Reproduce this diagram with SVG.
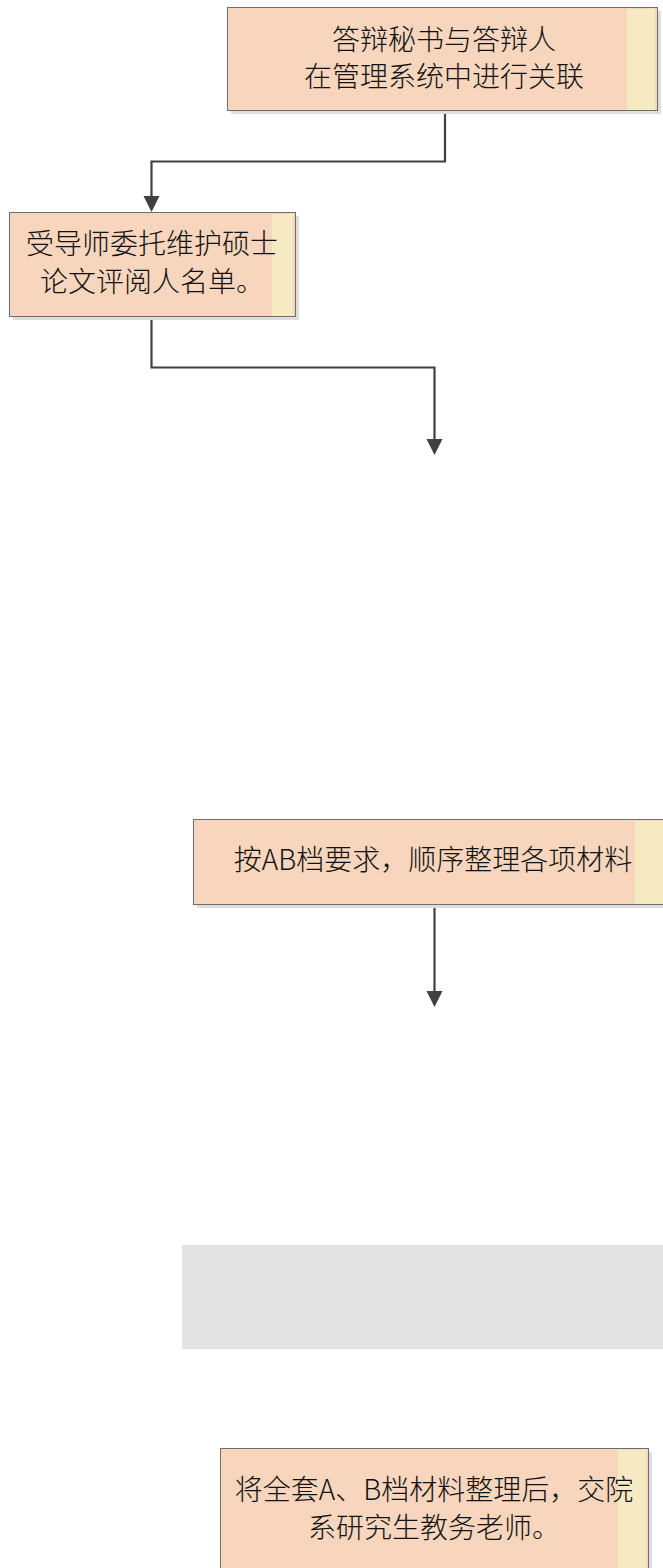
<svg xmlns="http://www.w3.org/2000/svg" width="663" height="1568" viewBox="0 0 663 1568">
  <style>
    .shadow { fill: #dedede; }
    .box { fill: #f7d6bd; stroke: #6e6e6e; stroke-width: 1; }
    .strip { fill: #f6eac2; }
    .label { font-family: "Noto Sans CJK SC", "Liberation Sans", sans-serif; font-size: 28px; font-weight: 300; fill: #111111; text-anchor: middle; }
    .conn { fill: none; stroke: #404040; stroke-width: 2.2; }
  </style>
  <defs>
    <marker id="arrow" markerUnits="userSpaceOnUse" markerWidth="17" markerHeight="17" refX="8" refY="8" orient="auto">
      <path d="M0,0 L16,8 L0,16 Z" fill="#404040"/>
    </marker>
  </defs>
  <rect width="663" height="1568" fill="#ffffff"/>

  <g id="connectors">
    <path class="conn" d="M445 111 V161.5 H151.5 V204" marker-end="url(#arrow)"/>
    <path class="conn" d="M151.5 317 V367.5 H434.5 V447" marker-end="url(#arrow)"/>
    <path class="conn" d="M434.5 905 V999" marker-end="url(#arrow)"/>
  </g>

  <g id="node1">
    <rect class="shadow" x="231" y="11" width="430" height="103"/>
    <rect class="box" x="227.5" y="7.5" width="430" height="103"/>
    <rect class="strip" x="627" y="9" width="28" height="101"/>
    <text class="label" x="444" y="50">答辩秘书与答辩人</text>
    <text class="label" x="444" y="87">在管理系统中进行关联</text>
  </g>

  <g id="node2">
    <rect class="shadow" x="13" y="216" width="286" height="104"/>
    <rect class="box" x="9.5" y="212.5" width="286" height="104"/>
    <rect class="strip" x="272" y="214" width="21" height="102"/>
    <text class="label" x="152" y="254">受导师委托维护硕士</text>
    <text class="label" x="152" y="292">论文评阅人名单。</text>
  </g>

  <g id="node3">
    <rect class="shadow" x="197" y="823" width="482" height="85"/>
    <rect class="box" x="193.5" y="819.5" width="482" height="85"/>
    <rect class="strip" x="635" y="821" width="40" height="83"/>
    <text class="label" x="433" y="870">按AB档要求，顺序整理各项材料</text>
  </g>

  <g id="node4">
    <rect x="182" y="1245" width="485" height="104" fill="#e3e3e3"/>
  </g>

  <g id="node5">
    <rect class="shadow" x="224" y="1452" width="428" height="140"/>
    <rect class="box" x="220.5" y="1448.5" width="428" height="140"/>
    <rect class="strip" x="618" y="1450" width="28" height="140"/>
    <text class="label" x="434" y="1500">将全套A、B档材料整理后，交院</text>
    <text class="label" x="434" y="1538">系研究生教务老师。</text>
  </g>
</svg>
